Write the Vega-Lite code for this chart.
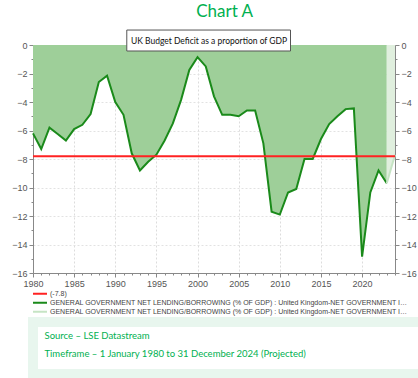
{
  "$schema": "https://vega.github.io/schema/vega-lite/v6.json",
  "background": "white",
  "padding": {"left": 11, "right": 5, "top": 3, "bottom": 0},
  "config": {"view": {"stroke": null}, "font": "Liberation Sans"},
  "title": {"text": "Chart A", "font": "Lato", "fontSize": 17, "fontWeight": "normal", "color": "#00b050", "anchor": "middle", "offset": 8},
  "spacing": 28,
  "datasets": {
    "deficit": [
      {"year": 1980, "value": -6.2, "series": "GENERAL GOVERNMENT NET LENDING/BORROWING (% OF GDP) : United Kingdom-NET GOVERNMENT INTEREST PAYABLE"},
      {"year": 1981, "value": -7.3, "series": "GENERAL GOVERNMENT NET LENDING/BORROWING (% OF GDP) : United Kingdom-NET GOVERNMENT INTEREST PAYABLE"},
      {"year": 1982, "value": -5.8, "series": "GENERAL GOVERNMENT NET LENDING/BORROWING (% OF GDP) : United Kingdom-NET GOVERNMENT INTEREST PAYABLE"},
      {"year": 1983, "value": -6.25, "series": "GENERAL GOVERNMENT NET LENDING/BORROWING (% OF GDP) : United Kingdom-NET GOVERNMENT INTEREST PAYABLE"},
      {"year": 1984, "value": -6.7, "series": "GENERAL GOVERNMENT NET LENDING/BORROWING (% OF GDP) : United Kingdom-NET GOVERNMENT INTEREST PAYABLE"},
      {"year": 1985, "value": -5.9, "series": "GENERAL GOVERNMENT NET LENDING/BORROWING (% OF GDP) : United Kingdom-NET GOVERNMENT INTEREST PAYABLE"},
      {"year": 1986, "value": -5.6, "series": "GENERAL GOVERNMENT NET LENDING/BORROWING (% OF GDP) : United Kingdom-NET GOVERNMENT INTEREST PAYABLE"},
      {"year": 1987, "value": -4.85, "series": "GENERAL GOVERNMENT NET LENDING/BORROWING (% OF GDP) : United Kingdom-NET GOVERNMENT INTEREST PAYABLE"},
      {"year": 1988, "value": -2.6, "series": "GENERAL GOVERNMENT NET LENDING/BORROWING (% OF GDP) : United Kingdom-NET GOVERNMENT INTEREST PAYABLE"},
      {"year": 1989, "value": -2.15, "series": "GENERAL GOVERNMENT NET LENDING/BORROWING (% OF GDP) : United Kingdom-NET GOVERNMENT INTEREST PAYABLE"},
      {"year": 1990, "value": -4.0, "series": "GENERAL GOVERNMENT NET LENDING/BORROWING (% OF GDP) : United Kingdom-NET GOVERNMENT INTEREST PAYABLE"},
      {"year": 1991, "value": -4.9, "series": "GENERAL GOVERNMENT NET LENDING/BORROWING (% OF GDP) : United Kingdom-NET GOVERNMENT INTEREST PAYABLE"},
      {"year": 1992, "value": -7.6, "series": "GENERAL GOVERNMENT NET LENDING/BORROWING (% OF GDP) : United Kingdom-NET GOVERNMENT INTEREST PAYABLE"},
      {"year": 1993, "value": -8.8, "series": "GENERAL GOVERNMENT NET LENDING/BORROWING (% OF GDP) : United Kingdom-NET GOVERNMENT INTEREST PAYABLE"},
      {"year": 1994, "value": -8.2, "series": "GENERAL GOVERNMENT NET LENDING/BORROWING (% OF GDP) : United Kingdom-NET GOVERNMENT INTEREST PAYABLE"},
      {"year": 1995, "value": -7.7, "series": "GENERAL GOVERNMENT NET LENDING/BORROWING (% OF GDP) : United Kingdom-NET GOVERNMENT INTEREST PAYABLE"},
      {"year": 1996, "value": -6.7, "series": "GENERAL GOVERNMENT NET LENDING/BORROWING (% OF GDP) : United Kingdom-NET GOVERNMENT INTEREST PAYABLE"},
      {"year": 1997, "value": -5.5, "series": "GENERAL GOVERNMENT NET LENDING/BORROWING (% OF GDP) : United Kingdom-NET GOVERNMENT INTEREST PAYABLE"},
      {"year": 1998, "value": -3.85, "series": "GENERAL GOVERNMENT NET LENDING/BORROWING (% OF GDP) : United Kingdom-NET GOVERNMENT INTEREST PAYABLE"},
      {"year": 1999, "value": -1.75, "series": "GENERAL GOVERNMENT NET LENDING/BORROWING (% OF GDP) : United Kingdom-NET GOVERNMENT INTEREST PAYABLE"},
      {"year": 2000, "value": -0.85, "series": "GENERAL GOVERNMENT NET LENDING/BORROWING (% OF GDP) : United Kingdom-NET GOVERNMENT INTEREST PAYABLE"},
      {"year": 2001, "value": -1.5, "series": "GENERAL GOVERNMENT NET LENDING/BORROWING (% OF GDP) : United Kingdom-NET GOVERNMENT INTEREST PAYABLE"},
      {"year": 2002, "value": -3.6, "series": "GENERAL GOVERNMENT NET LENDING/BORROWING (% OF GDP) : United Kingdom-NET GOVERNMENT INTEREST PAYABLE"},
      {"year": 2003, "value": -4.9, "series": "GENERAL GOVERNMENT NET LENDING/BORROWING (% OF GDP) : United Kingdom-NET GOVERNMENT INTEREST PAYABLE"},
      {"year": 2004, "value": -4.9, "series": "GENERAL GOVERNMENT NET LENDING/BORROWING (% OF GDP) : United Kingdom-NET GOVERNMENT INTEREST PAYABLE"},
      {"year": 2005, "value": -5.0, "series": "GENERAL GOVERNMENT NET LENDING/BORROWING (% OF GDP) : United Kingdom-NET GOVERNMENT INTEREST PAYABLE"},
      {"year": 2006, "value": -4.6, "series": "GENERAL GOVERNMENT NET LENDING/BORROWING (% OF GDP) : United Kingdom-NET GOVERNMENT INTEREST PAYABLE"},
      {"year": 2007, "value": -4.6, "series": "GENERAL GOVERNMENT NET LENDING/BORROWING (% OF GDP) : United Kingdom-NET GOVERNMENT INTEREST PAYABLE"},
      {"year": 2008, "value": -6.9, "series": "GENERAL GOVERNMENT NET LENDING/BORROWING (% OF GDP) : United Kingdom-NET GOVERNMENT INTEREST PAYABLE"},
      {"year": 2009, "value": -11.7, "series": "GENERAL GOVERNMENT NET LENDING/BORROWING (% OF GDP) : United Kingdom-NET GOVERNMENT INTEREST PAYABLE"},
      {"year": 2010, "value": -11.9, "series": "GENERAL GOVERNMENT NET LENDING/BORROWING (% OF GDP) : United Kingdom-NET GOVERNMENT INTEREST PAYABLE"},
      {"year": 2011, "value": -10.35, "series": "GENERAL GOVERNMENT NET LENDING/BORROWING (% OF GDP) : United Kingdom-NET GOVERNMENT INTEREST PAYABLE"},
      {"year": 2012, "value": -10.1, "series": "GENERAL GOVERNMENT NET LENDING/BORROWING (% OF GDP) : United Kingdom-NET GOVERNMENT INTEREST PAYABLE"},
      {"year": 2013, "value": -8.0, "series": "GENERAL GOVERNMENT NET LENDING/BORROWING (% OF GDP) : United Kingdom-NET GOVERNMENT INTEREST PAYABLE"},
      {"year": 2014, "value": -8.0, "series": "GENERAL GOVERNMENT NET LENDING/BORROWING (% OF GDP) : United Kingdom-NET GOVERNMENT INTEREST PAYABLE"},
      {"year": 2015, "value": -6.6, "series": "GENERAL GOVERNMENT NET LENDING/BORROWING (% OF GDP) : United Kingdom-NET GOVERNMENT INTEREST PAYABLE"},
      {"year": 2016, "value": -5.55, "series": "GENERAL GOVERNMENT NET LENDING/BORROWING (% OF GDP) : United Kingdom-NET GOVERNMENT INTEREST PAYABLE"},
      {"year": 2017, "value": -5.0, "series": "GENERAL GOVERNMENT NET LENDING/BORROWING (% OF GDP) : United Kingdom-NET GOVERNMENT INTEREST PAYABLE"},
      {"year": 2018, "value": -4.5, "series": "GENERAL GOVERNMENT NET LENDING/BORROWING (% OF GDP) : United Kingdom-NET GOVERNMENT INTEREST PAYABLE"},
      {"year": 2019, "value": -4.45, "series": "GENERAL GOVERNMENT NET LENDING/BORROWING (% OF GDP) : United Kingdom-NET GOVERNMENT INTEREST PAYABLE"},
      {"year": 2020, "value": -14.85, "series": "GENERAL GOVERNMENT NET LENDING/BORROWING (% OF GDP) : United Kingdom-NET GOVERNMENT INTEREST PAYABLE"},
      {"year": 2021, "value": -10.35, "series": "GENERAL GOVERNMENT NET LENDING/BORROWING (% OF GDP) : United Kingdom-NET GOVERNMENT INTEREST PAYABLE"},
      {"year": 2022, "value": -8.8, "series": "GENERAL GOVERNMENT NET LENDING/BORROWING (% OF GDP) : United Kingdom-NET GOVERNMENT INTEREST PAYABLE"},
      {"year": 2023, "value": -9.7, "series": "GENERAL GOVERNMENT NET LENDING/BORROWING (% OF GDP) : United Kingdom-NET GOVERNMENT INTEREST PAYABLE"},
      {"year": 2023, "value": -9.7, "series": "GENERAL GOVERNMENT NET LENDING/BORROWING (% OF GDP) : United Kingdom-NET GOVERNMENT INTEREST PAYABLE (PROJECTED)"},
      {"year": 2024, "value": -7.7, "series": "GENERAL GOVERNMENT NET LENDING/BORROWING (% OF GDP) : United Kingdom-NET GOVERNMENT INTEREST PAYABLE (PROJECTED)"}
    ],
    "threshold": [
      {"value": -7.8, "series": "(-7.8)"}
    ],
    "notes": [
      {"text": "Source – LSE Datastream"},
      {"text": "Timeframe – 1 January 1980 to 31 December 2024 (Projected)"}
    ]
  },
  "vconcat": [
    {
      "width": 362,
      "height": 228,
      "view": {"fill": "white", "stroke": "#dddddd"},
      "resolve": {"axis": {"y": "independent"}},
      "layer": [
        {
          "data": {"name": "deficit"},
          "mark": {"type": "area"},
          "encoding": {
            "x": {
              "field": "year", "type": "quantitative",
              "scale": {"domain": [1980, 2024], "nice": false, "zero": false},
              "axis": {
                "title": null, "format": "d",
                "values": [1980,1981,1982,1983,1984,1985,1986,1987,1988,1989,1990,1991,1992,1993,1994,1995,1996,1997,1998,1999,2000,2001,2002,2003,2004,2005,2006,2007,2008,2009,2010,2011,2012,2013,2014,2015,2016,2017,2018,2019,2020,2021,2022,2023,2024],
                "labelExpr": "datum.value % 5 === 0 ? datum.label : ''",
                "labelOverlap": false, "labelFlush": false,
                "tickSize": {"condition": {"test": "datum.value % 5 === 0", "value": 4}, "value": 2},
                "grid": true, "gridColor": "#dcdcdc", "gridDash": [2, 2],
                "gridOpacity": {"condition": {"test": "datum.value % 5 === 0", "value": 1}, "value": 0},
                "domainColor": "#888888", "tickColor": "#888888",
                "labelColor": "#555555", "labelFontSize": 9, "labelFont": "Liberation Sans", "labelPadding": 2
              }
            },
            "y": {
              "field": "value", "type": "quantitative",
              "scale": {"domain": [-16, 0], "nice": false},
              "axis": {
                "title": null, "orient": "left", "format": "d",
                "values": [-16,-15.5,-15,-14.5,-14,-13.5,-13,-12.5,-12,-11.5,-11,-10.5,-10,-9.5,-9,-8.5,-8,-7.5,-7,-6.5,-6,-5.5,-5,-4.5,-4,-3.5,-3,-2.5,-2,-1.5,-1,-0.5,0],
                "labelExpr": "datum.value % 2 === 0 ? datum.label : ''",
                "labelOverlap": false,
                "tickSize": {"condition": {"test": "datum.value % 2 === 0", "value": 4}, "value": 2},
                "grid": true, "gridColor": "#e2e2e2", "gridDash": [2, 2],
                "gridOpacity": {"condition": {"test": "datum.value % 2 === 0", "value": 1}, "value": 0},
                "domainColor": "#888888", "tickColor": "#888888",
                "labelColor": "#555555", "labelFontSize": 9, "labelFont": "Liberation Sans", "labelPadding": 2
              }
            },
            "y2": {"datum": 0},
            "fill": {
              "field": "series", "type": "nominal",
              "scale": {
                "domain": ["GENERAL GOVERNMENT NET LENDING/BORROWING (% OF GDP) : United Kingdom-NET GOVERNMENT INTEREST PAYABLE", "GENERAL GOVERNMENT NET LENDING/BORROWING (% OF GDP) : United Kingdom-NET GOVERNMENT INTEREST PAYABLE (PROJECTED)"],
                "range": ["#9ecf99", "#e0efde"]
              },
              "legend": null
            }
          }
        },
        {
          "data": {"name": "deficit"},
          "mark": {"type": "line", "strokeWidth": 2},
          "encoding": {
            "x": {
              "field": "year", "type": "quantitative",
              "scale": {"domain": [1980, 2024], "nice": false, "zero": false},
              "axis": {
                "title": null, "format": "d",
                "values": [1980,1981,1982,1983,1984,1985,1986,1987,1988,1989,1990,1991,1992,1993,1994,1995,1996,1997,1998,1999,2000,2001,2002,2003,2004,2005,2006,2007,2008,2009,2010,2011,2012,2013,2014,2015,2016,2017,2018,2019,2020,2021,2022,2023,2024],
                "labelExpr": "datum.value % 5 === 0 ? datum.label : ''",
                "labelOverlap": false, "labelFlush": false,
                "tickSize": {"condition": {"test": "datum.value % 5 === 0", "value": 4}, "value": 2},
                "grid": true, "gridColor": "#dcdcdc", "gridDash": [2, 2],
                "gridOpacity": {"condition": {"test": "datum.value % 5 === 0", "value": 1}, "value": 0},
                "domainColor": "#888888", "tickColor": "#888888",
                "labelColor": "#555555", "labelFontSize": 9, "labelFont": "Liberation Sans", "labelPadding": 2
              }
            },
            "y": {"field": "value", "type": "quantitative", "axis": null},
            "color": {
              "field": "series", "type": "nominal",
              "scale": {
                "domain": ["(-7.8)", "GENERAL GOVERNMENT NET LENDING/BORROWING (% OF GDP) : United Kingdom-NET GOVERNMENT INTEREST PAYABLE", "GENERAL GOVERNMENT NET LENDING/BORROWING (% OF GDP) : United Kingdom-NET GOVERNMENT INTEREST PAYABLE (PROJECTED)"],
                "range": ["#ff2222", "#1a8a1a", "#c6e4c4"]
              },
              "legend": {
                "title": null, "orient": "none", "legendX": -1, "legendY": 245, "direction": "vertical",
                "symbolType": "stroke", "symbolSize": 196, "symbolStrokeWidth": 2,
                "clipHeight": 7.5,
                "labelFont": "Liberation Sans", "labelFontSize": 7, "labelColor": "#444444",
                "labelLimit": 362, "rowPadding": 0, "labelOffset": 2
              }
            }
          }
        },
        {
          "data": {"name": "threshold"},
          "mark": {"type": "rule", "strokeWidth": 2},
          "encoding": {
            "y": {
              "field": "value", "type": "quantitative",
              "axis": {
                "title": null, "orient": "right", "format": "d",
                "values": [-16,-15.5,-15,-14.5,-14,-13.5,-13,-12.5,-12,-11.5,-11,-10.5,-10,-9.5,-9,-8.5,-8,-7.5,-7,-6.5,-6,-5.5,-5,-4.5,-4,-3.5,-3,-2.5,-2,-1.5,-1,-0.5,0],
                "labelExpr": "datum.value % 2 === 0 ? datum.label : ''",
                "labelOverlap": false,
                "tickSize": {"condition": {"test": "datum.value % 2 === 0", "value": 4}, "value": 2},
                "grid": false,
                "domainColor": "#888888", "tickColor": "#888888",
                "labelColor": "#555555", "labelFontSize": 9, "labelFont": "Liberation Sans", "labelPadding": 2
              }
            },
            "color": {"field": "series", "type": "nominal"}
          }
        },
        {
          "data": {"name": "threshold"},
          "mark": {"type": "rect", "fill": "white", "stroke": "#555555", "strokeWidth": 1, "clip": false},
          "encoding": {
            "x": {
              "datum": 1991.4, "type": "quantitative",
              "scale": {"domain": [1980, 2024], "nice": false, "zero": false},
              "axis": {
                "title": null, "format": "d",
                "values": [1980,1981,1982,1983,1984,1985,1986,1987,1988,1989,1990,1991,1992,1993,1994,1995,1996,1997,1998,1999,2000,2001,2002,2003,2004,2005,2006,2007,2008,2009,2010,2011,2012,2013,2014,2015,2016,2017,2018,2019,2020,2021,2022,2023,2024],
                "labelExpr": "datum.value % 5 === 0 ? datum.label : ''",
                "labelOverlap": false, "labelFlush": false,
                "tickSize": {"condition": {"test": "datum.value % 5 === 0", "value": 4}, "value": 2},
                "grid": true, "gridColor": "#dcdcdc", "gridDash": [2, 2],
                "gridOpacity": {"condition": {"test": "datum.value % 5 === 0", "value": 1}, "value": 0},
                "domainColor": "#888888", "tickColor": "#888888",
                "labelColor": "#555555", "labelFontSize": 9, "labelFont": "Liberation Sans", "labelPadding": 2
              }
            },
            "x2": {"datum": 2011.3},
            "y": {"datum": 1.05, "type": "quantitative", "scale": {"domain": [-16, 0], "nice": false}, "axis": null},
            "y2": {"datum": -0.42}
          }
        },
        {
          "data": {"name": "threshold"},
          "mark": {"type": "text", "font": "Lato", "fontSize": 8.5, "color": "#111111", "align": "center", "baseline": "middle", "clip": false},
          "encoding": {
            "x": {
              "datum": 2001.4, "type": "quantitative",
              "scale": {"domain": [1980, 2024], "nice": false, "zero": false},
              "axis": {
                "title": null, "format": "d",
                "values": [1980,1981,1982,1983,1984,1985,1986,1987,1988,1989,1990,1991,1992,1993,1994,1995,1996,1997,1998,1999,2000,2001,2002,2003,2004,2005,2006,2007,2008,2009,2010,2011,2012,2013,2014,2015,2016,2017,2018,2019,2020,2021,2022,2023,2024],
                "labelExpr": "datum.value % 5 === 0 ? datum.label : ''",
                "labelOverlap": false, "labelFlush": false,
                "tickSize": {"condition": {"test": "datum.value % 5 === 0", "value": 4}, "value": 2},
                "grid": true, "gridColor": "#dcdcdc", "gridDash": [2, 2],
                "gridOpacity": {"condition": {"test": "datum.value % 5 === 0", "value": 1}, "value": 0},
                "domainColor": "#888888", "tickColor": "#888888",
                "labelColor": "#555555", "labelFontSize": 9, "labelFont": "Liberation Sans", "labelPadding": 2
              }
            },
            "y": {"datum": 0.3, "type": "quantitative", "scale": {"domain": [-16, 0], "nice": false}, "axis": null},
            "text": {"value": "UK Budget Deficit as a proportion of GDP"}
          }
        }
      ]
    },
    {
      "width": 400,
      "height": 52,
      "data": {"name": "notes"},
      "view": {"fill": "white", "stroke": "#e8f6ee", "strokeWidth": 10},
      "mark": {"type": "text", "align": "left", "baseline": "middle", "font": "Lato", "fontSize": 9.5, "color": "#00b050", "dx": 11.5, "dy": -3},
      "encoding": {
        "x": {"datum": 0, "type": "quantitative", "scale": {"domain": [0, 1]}, "axis": null},
        "y": {"field": "text", "type": "nominal", "sort": null, "scale": {"type": "point", "padding": 0.95}, "axis": null},
        "text": {"field": "text"}
      }
    }
  ]
}
